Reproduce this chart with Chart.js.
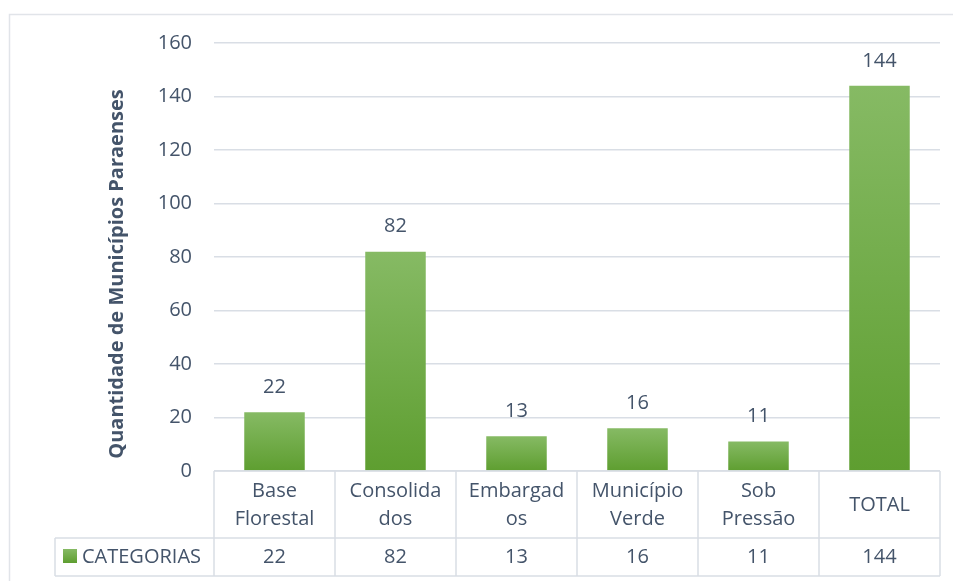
<!DOCTYPE html>
<html>
<head>
<meta charset="utf-8">
<title>Quantidade de Municípios Paraenses</title>
<script src="https://cdn.jsdelivr.net/npm/chart.js@4/dist/chart.umd.min.js"></script>
<style>
  html, body { margin: 0; padding: 0; background: #ffffff; }
  #wrap { width: 953px; height: 581px; }
</style>
</head>
<body>
<div id="wrap"><canvas id="chart" width="953" height="581"></canvas></div>
<script>
// Category labels (each entry holds the wrapped lines of the header cell)
const categories = [
  ["Base", "Florestal"],
  ["Consolida", "dos"],
  ["Embargad", "os"],
  ["Município", "Verde"],
  ["Sob", "Pressão"],
  ["TOTAL"]
];
const seriesName = "CATEGORIAS";
const values = [22, 82, 13, 16, 11, 144];
const yTickValues = [0, 20, 40, 60, 80, 100, 120, 140, 160];
const yTitle = "Quantidade de Municípios Paraenses";

const FONT = "'Open Sans', Lato, sans-serif";
const FONT_SIZE = 20;
const TEXT = "#44546a";
const LINE = "#d9dee5";
const GREEN_TOP = "#86ba64";
const GREEN_BOTTOM = "#5e9e30";

// Light outer frame of the chart area
const framePlugin = {
  id: "frame",
  beforeDraw(chart) {
    const c = chart.ctx;
    c.save();
    c.fillStyle = "#ffffff";
    c.fillRect(0, 0, chart.width, chart.height);
    c.strokeStyle = "#e1e4e9";
    c.lineWidth = 1.5;
    c.strokeRect(9.5, 14.5, chart.width + 20, chart.height + 20);
    c.restore();
  }
};

// Value labels above each bar
const valueLabelPlugin = {
  id: "valueLabels",
  afterDatasetsDraw(chart) {
    const c = chart.ctx;
    const meta = chart.getDatasetMeta(0);
    c.save();
    c.font = FONT_SIZE + "px " + FONT;
    c.fillStyle = TEXT;
    c.textAlign = "center";
    c.textBaseline = "middle";
    meta.data.forEach((el, i) => {
      c.fillText(String(values[i]), el.x, el.y - 25);
    });
    c.restore();
  }
};

// Rotated y-axis title
const yTitlePlugin = {
  id: "yTitle",
  afterDraw(chart) {
    const c = chart.ctx;
    c.save();
    c.translate(117, 274);
    c.rotate(-Math.PI / 2);
    c.font = "bold 20px " + FONT;
    c.fillStyle = TEXT;
    c.textAlign = "center";
    c.textBaseline = "middle";
    c.fillText(yTitle, 0, 0);
    c.restore();
  }
};

// Data table under the plot: category header row + value row with legend key
const dataTablePlugin = {
  id: "dataTable",
  afterDraw(chart) {
    const c = chart.ctx;
    const { left, right, bottom } = chart.chartArea;
    const xs = chart.scales.x;
    const n = categories.length;
    const colW = (right - left) / n;
    const headTop = bottom;
    const headBottom = headTop + 67;
    const rowBottom = headBottom + 38;
    const labelLeft = 55;

    c.save();
    c.strokeStyle = LINE;
    c.lineWidth = 1.5;
    c.beginPath();
    c.moveTo(left, headTop); c.lineTo(right, headTop);
    c.moveTo(labelLeft, headBottom); c.lineTo(right, headBottom);
    c.moveTo(labelLeft, rowBottom); c.lineTo(right, rowBottom);
    for (let k = 0; k <= n; k++) {
      const x = left + k * colW;
      c.moveTo(x, headTop); c.lineTo(x, rowBottom);
    }
    c.moveTo(labelLeft, headBottom); c.lineTo(labelLeft, rowBottom);
    c.stroke();

    c.font = FONT_SIZE + "px " + FONT;
    c.fillStyle = TEXT;
    c.textAlign = "center";
    c.textBaseline = "middle";
    categories.forEach((lines, i) => {
      const cx = xs.getPixelForValue(i);
      if (lines.length === 1) {
        c.fillText(lines[0], cx, headTop + 34);
      } else {
        lines.forEach((t, j) => c.fillText(t, cx, headTop + 20 + j * 28));
      }
      c.fillText(String(values[i]), cx, headBottom + 19);
    });

    // legend key
    const g = c.createLinearGradient(0, headBottom + 11, 0, headBottom + 25);
    g.addColorStop(0, GREEN_TOP);
    g.addColorStop(1, GREEN_BOTTOM);
    c.fillStyle = g;
    c.fillRect(63, headBottom + 11, 14, 14);
    c.fillStyle = TEXT;
    c.textAlign = "left";
    c.fillText(seriesName, 82, headBottom + 19);
    c.restore();
  }
};

new Chart(document.getElementById("chart"), {
  type: "bar",
  data: {
    labels: categories.map(l => l.join(" ")),
    datasets: [{
      label: seriesName,
      data: values,
      backgroundColor(ctx) {
        const chart = ctx.chart;
        const ys = chart.scales.y;
        if (!ys || ctx.raw === undefined) return GREEN_BOTTOM;
        const top = ys.getPixelForValue(ctx.raw);
        const base = ys.getPixelForValue(0);
        if (!isFinite(top) || !isFinite(base) || top === base) return GREEN_BOTTOM;
        const g = chart.ctx.createLinearGradient(0, top, 0, base);
        g.addColorStop(0, GREEN_TOP);
        g.addColorStop(1, GREEN_BOTTOM);
        return g;
      },
      borderWidth: 0,
      barPercentage: 1,
      categoryPercentage: 0.5
    }]
  },
  options: {
    responsive: false,
    animation: false,
    devicePixelRatio: 1,
    layout: { padding: { left: 0, top: 43, right: 13, bottom: 110 } },
    plugins: {
      legend: { display: false },
      tooltip: { enabled: false }
    },
    scales: {
      x: { display: false },
      y: {
        min: 0,
        max: 160,
        afterBuildTicks(scale) {
          scale.ticks = yTickValues.map(v => ({ value: v }));
        },
        afterFit(scale) { scale.width = 214; },
        border: { display: false },
        grid: { color: LINE, lineWidth: 1.5, drawTicks: false },
        ticks: {
          padding: 22,
          color: TEXT,
          font: { family: FONT, size: FONT_SIZE }
        }
      }
    }
  },
  plugins: [framePlugin, valueLabelPlugin, yTitlePlugin, dataTablePlugin]
});
</script>
</body>
</html>
